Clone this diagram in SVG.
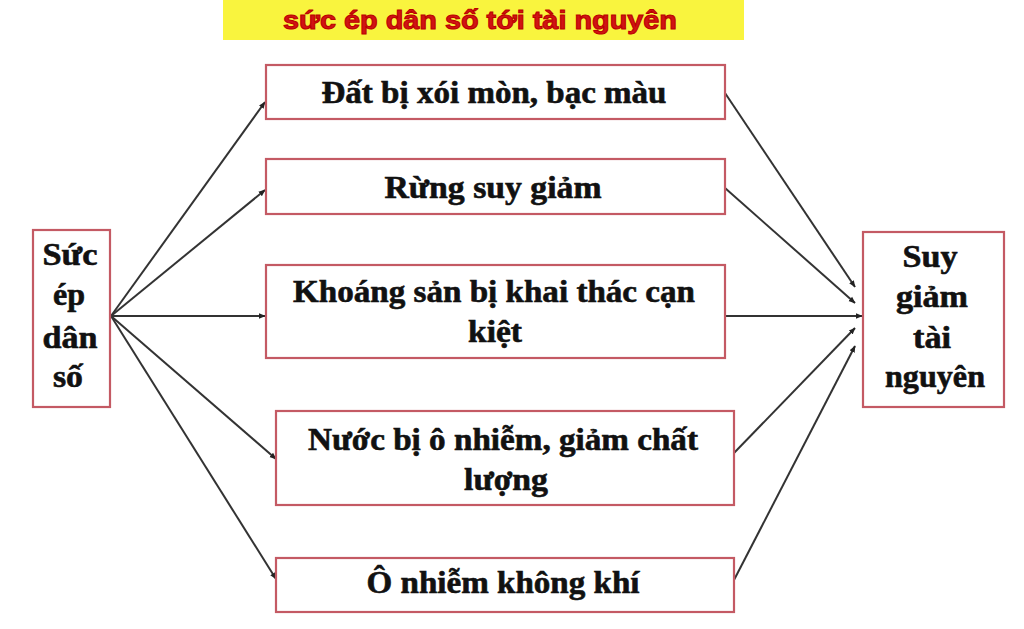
<svg xmlns="http://www.w3.org/2000/svg" width="1024" height="629" viewBox="0 0 1024 629">
<defs>
<style>
.box{fill:#ffffff;stroke:#c45a64;stroke-width:2.2}
.t{font-family:"Liberation Serif","Times New Roman",serif;font-weight:bold;font-size:31px;fill:#111;stroke:#111;stroke-width:0.6;text-anchor:middle}
.title{font-family:"Liberation Sans",Arial,sans-serif;font-weight:900;font-size:25px;fill:#d01414;text-anchor:middle;stroke:#b00;stroke-width:1}
.c{stroke:#333;stroke-width:2;fill:none;marker-end:url(#ah)}
</style>
<marker id="ah" viewBox="0 0 10 10" refX="9" refY="5" markerWidth="7" markerHeight="7" markerUnits="userSpaceOnUse" orient="auto">
<path d="M0,1 L10,5 L0,9 z" fill="#222"/>
</marker>
</defs>
<rect x="0" y="0" width="1024" height="629" fill="#ffffff"/>
<g id="title">
<rect x="223" y="0" width="521" height="40" fill="#f9f43e"/>
<text class="title" x="480" y="29" textLength="394" lengthAdjust="spacingAndGlyphs">sức ép dân số tới tài nguyên</text>
</g>
<g id="connectors">
<line class="c" x1="111" y1="316" x2="265" y2="102"/>
<line class="c" x1="111" y1="316" x2="265" y2="190"/>
<line class="c" x1="111" y1="316" x2="265" y2="316"/>
<line class="c" x1="111" y1="316" x2="276" y2="459"/>
<line class="c" x1="111" y1="316" x2="276" y2="579"/>
<line class="c" x1="725" y1="93" x2="855" y2="287"/>
<line class="c" x1="725" y1="188" x2="855" y2="303"/>
<line class="c" x1="725" y1="316" x2="862" y2="316"/>
<line class="c" x1="734" y1="453" x2="855" y2="328"/>
<line class="c" x1="734" y1="580" x2="855" y2="346"/>
</g>
<g id="node-left">
<rect class="box" x="33" y="230" width="77" height="177"/>
<text class="t" x="70" y="265" textLength="55" lengthAdjust="spacingAndGlyphs">Sức</text>
<text class="t" x="69" y="305" textLength="32" lengthAdjust="spacingAndGlyphs">ép</text>
<text class="t" x="70" y="348" textLength="55" lengthAdjust="spacingAndGlyphs">dân</text>
<text class="t" x="68" y="387" textLength="30" lengthAdjust="spacingAndGlyphs">số</text>
</g>
<g id="node-1">
<rect class="box" x="266" y="65" width="459" height="54"/>
<text class="t" x="494" y="103" textLength="345" lengthAdjust="spacingAndGlyphs">Đất bị xói mòn, bạc màu</text>
</g>
<g id="node-2">
<rect class="box" x="266" y="159" width="459" height="55"/>
<text class="t" x="493" y="198" textLength="217" lengthAdjust="spacingAndGlyphs">Rừng suy giảm</text>
</g>
<g id="node-3">
<rect class="box" x="266" y="265" width="459" height="93"/>
<text class="t" x="494" y="302" textLength="402" lengthAdjust="spacingAndGlyphs">Khoáng sản bị khai thác cạn</text>
<text class="t" x="495" y="342" textLength="54" lengthAdjust="spacingAndGlyphs">kiệt</text>
</g>
<g id="node-4">
<rect class="box" x="276" y="411" width="458" height="94"/>
<text class="t" x="503" y="450" textLength="390" lengthAdjust="spacingAndGlyphs">Nước bị ô nhiễm, giảm chất</text>
<text class="t" x="506" y="490" textLength="84" lengthAdjust="spacingAndGlyphs">lượng</text>
</g>
<g id="node-5">
<rect class="box" x="276" y="558" width="458" height="54"/>
<text class="t" x="503" y="593" textLength="273" lengthAdjust="spacingAndGlyphs">Ô nhiễm không khí</text>
</g>
<g id="node-right">
<rect class="box" x="863" y="232" width="141" height="175"/>
<text class="t" x="930" y="267" textLength="55" lengthAdjust="spacingAndGlyphs">Suy</text>
<text class="t" x="932" y="307" textLength="72" lengthAdjust="spacingAndGlyphs">giảm</text>
<text class="t" x="932" y="348" textLength="38" lengthAdjust="spacingAndGlyphs">tài</text>
<text class="t" x="935" y="387" textLength="100" lengthAdjust="spacingAndGlyphs">nguyên</text>
</g>
</svg>
